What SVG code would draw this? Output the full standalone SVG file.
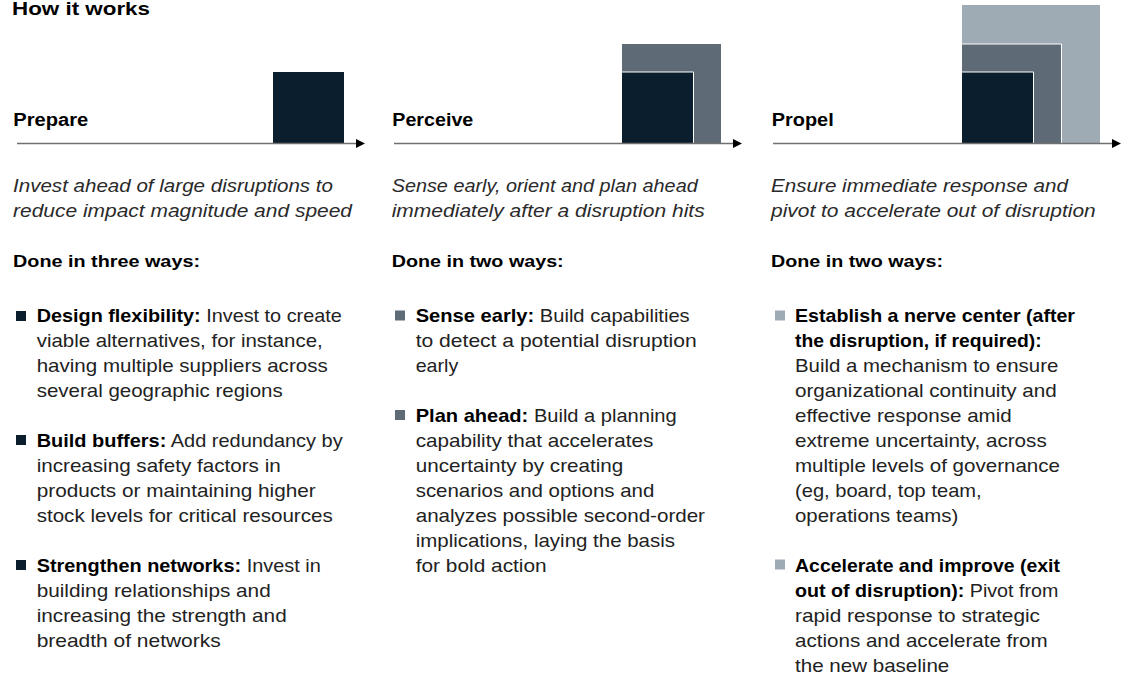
<svg xmlns="http://www.w3.org/2000/svg" width="1129" height="674" viewBox="0 0 1129 674">
<style>
  text { font-family: "Liberation Sans", Arial, sans-serif; fill: #222; }
  .title { font-size: 18px; font-weight: bold; fill: #000; }
  .head { font-size: 18px; font-weight: bold; fill: #000; }
  .ital { font-size: 18.5px; font-style: italic; fill: #2a2a2a; }
  .done { font-size: 17px; font-weight: bold; fill: #000; }
  .body { font-size: 18.5px; fill: #222; }
  .b { font-weight: bold; fill: #000; }
  .navy { fill: #0b1e2d; }
  .mid { fill: #5e6b76; }
  .light { fill: #9eaab4; }
  .sep { fill: none; stroke: #ffffff; stroke-width: 1; }
  .axis { stroke: #707070; stroke-width: 1.5; fill: none; marker-end: url(#arrow); }
</style>
<defs>
  <marker id="arrow" viewBox="0 0 9 9" refX="0" refY="4.5" markerWidth="9" markerHeight="9" markerUnits="userSpaceOnUse" orient="auto">
    <path d="M0,0 L9,4.5 L0,9 z" fill="#000"/>
  </marker>
</defs>
<rect width="1129" height="674" fill="#ffffff"/>
<text class="title" x="12" y="15" textLength="138" lengthAdjust="spacingAndGlyphs">How it works</text>

<g id="prepare">
  <rect class="navy" x="273" y="72" width="71" height="71.5"/>
  <text class="head" x="13.3" y="126" textLength="75" lengthAdjust="spacingAndGlyphs">Prepare</text>
  <text class="ital" x="13" y="191.7" textLength="320" lengthAdjust="spacingAndGlyphs">Invest ahead of large disruptions to</text>
  <text class="ital" x="13" y="216.7" textLength="339" lengthAdjust="spacingAndGlyphs">reduce impact magnitude and speed</text>
  <text class="done" x="13" y="266.7" textLength="187" lengthAdjust="spacingAndGlyphs">Done in three ways:</text>
  <rect class="navy" x="16" y="311" width="10" height="10"/>
  <text class="body" x="36.7" y="321.7" textLength="305" lengthAdjust="spacingAndGlyphs"><tspan class="b">Design flexibility:</tspan> Invest to create</text>
  <text class="body" x="36.7" y="346.7" textLength="286" lengthAdjust="spacingAndGlyphs">viable alternatives, for instance,</text>
  <text class="body" x="36.7" y="371.7" textLength="291" lengthAdjust="spacingAndGlyphs">having multiple suppliers across</text>
  <text class="body" x="36.7" y="396.7" textLength="246" lengthAdjust="spacingAndGlyphs">several geographic regions</text>
  <rect class="navy" x="16" y="435" width="10" height="10"/>
  <text class="body" x="36.7" y="446.7" textLength="306" lengthAdjust="spacingAndGlyphs"><tspan class="b">Build buffers:</tspan> Add redundancy by</text>
  <text class="body" x="36.7" y="471.7" textLength="244" lengthAdjust="spacingAndGlyphs">increasing safety factors in</text>
  <text class="body" x="36.7" y="496.7" textLength="279" lengthAdjust="spacingAndGlyphs">products or maintaining higher</text>
  <text class="body" x="36.7" y="521.7" textLength="296" lengthAdjust="spacingAndGlyphs">stock levels for critical resources</text>
  <rect class="navy" x="16" y="560" width="10" height="10"/>
  <text class="body" x="36.7" y="571.7" textLength="284" lengthAdjust="spacingAndGlyphs"><tspan class="b">Strengthen networks:</tspan> Invest in</text>
  <text class="body" x="36.7" y="596.7" textLength="234" lengthAdjust="spacingAndGlyphs">building relationships and</text>
  <text class="body" x="36.7" y="621.7" textLength="250" lengthAdjust="spacingAndGlyphs">increasing the strength and</text>
  <text class="body" x="36.7" y="646.7" textLength="184" lengthAdjust="spacingAndGlyphs">breadth of networks</text>
</g>

<g id="perceive">
  <rect class="mid" x="622" y="44" width="99" height="99.5"/>
  <rect class="navy" x="622" y="72" width="71.5" height="71.5"/>
  <polyline class="sep" points="622,72 693.5,72 693.5,143.5"/>
  <text class="head" x="392.3" y="126" textLength="81" lengthAdjust="spacingAndGlyphs">Perceive</text>
  <text class="ital" x="391.7" y="191.7" textLength="306" lengthAdjust="spacingAndGlyphs">Sense early, orient and plan ahead</text>
  <text class="ital" x="391.7" y="216.7" textLength="313" lengthAdjust="spacingAndGlyphs">immediately after a disruption hits</text>
  <text class="done" x="391.7" y="266.7" textLength="172" lengthAdjust="spacingAndGlyphs">Done in two ways:</text>
  <rect class="mid" x="395" y="310.5" width="10" height="10"/>
  <text class="body" x="415.7" y="321.7" textLength="274" lengthAdjust="spacingAndGlyphs"><tspan class="b">Sense early:</tspan> Build capabilities</text>
  <text class="body" x="415.7" y="346.7" textLength="281" lengthAdjust="spacingAndGlyphs">to detect a potential disruption</text>
  <text class="body" x="415.7" y="371.7" textLength="42.6" lengthAdjust="spacingAndGlyphs">early</text>
  <rect class="mid" x="395" y="410" width="10" height="10"/>
  <text class="body" x="415.7" y="421.7" textLength="261" lengthAdjust="spacingAndGlyphs"><tspan class="b">Plan ahead:</tspan> Build a planning</text>
  <text class="body" x="415.7" y="446.7" textLength="237.6" lengthAdjust="spacingAndGlyphs">capability that accelerates</text>
  <text class="body" x="415.7" y="471.7" textLength="207.6" lengthAdjust="spacingAndGlyphs">uncertainty by creating</text>
  <text class="body" x="415.7" y="496.7" textLength="238.6" lengthAdjust="spacingAndGlyphs">scenarios and options and</text>
  <text class="body" x="415.7" y="521.7" textLength="289.3" lengthAdjust="spacingAndGlyphs">analyzes possible second-order</text>
  <text class="body" x="415.7" y="546.7" textLength="259.3" lengthAdjust="spacingAndGlyphs">implications, laying the basis</text>
  <text class="body" x="415.7" y="571.7" textLength="131" lengthAdjust="spacingAndGlyphs">for bold action</text>
</g>

<g id="propel">
  <rect class="light" x="962" y="5" width="138" height="138.5"/>
  <rect class="mid" x="962" y="44" width="99" height="99.5"/>
  <polyline class="sep" points="962,44 1061.5,44 1061.5,143.5"/>
  <rect class="navy" x="962" y="72" width="71.5" height="71.5"/>
  <polyline class="sep" points="962,72 1033.5,72 1033.5,143.5"/>
  <text class="head" x="771.7" y="126" textLength="62" lengthAdjust="spacingAndGlyphs">Propel</text>
  <text class="ital" x="771" y="191.7" textLength="297" lengthAdjust="spacingAndGlyphs">Ensure immediate response and</text>
  <text class="ital" x="771" y="216.7" textLength="324.7" lengthAdjust="spacingAndGlyphs">pivot to accelerate out of disruption</text>
  <text class="done" x="771" y="266.7" textLength="172" lengthAdjust="spacingAndGlyphs">Done in two ways:</text>
  <rect class="light" x="775" y="310.5" width="10" height="10"/>
  <text class="body b" x="795" y="321.7" textLength="280" lengthAdjust="spacingAndGlyphs">Establish a nerve center (after</text>
  <text class="body b" x="795" y="346.7" textLength="246.7" lengthAdjust="spacingAndGlyphs">the disruption, if required):</text>
  <text class="body" x="795" y="371.7" textLength="263.3" lengthAdjust="spacingAndGlyphs">Build a mechanism to ensure</text>
  <text class="body" x="795" y="396.7" textLength="261.7" lengthAdjust="spacingAndGlyphs">organizational continuity and</text>
  <text class="body" x="795" y="421.7" textLength="216.7" lengthAdjust="spacingAndGlyphs">effective response amid</text>
  <text class="body" x="795" y="446.7" textLength="251.7" lengthAdjust="spacingAndGlyphs">extreme uncertainty, across</text>
  <text class="body" x="795" y="471.7" textLength="265" lengthAdjust="spacingAndGlyphs">multiple levels of governance</text>
  <text class="body" x="795" y="496.7" textLength="186.7" lengthAdjust="spacingAndGlyphs">(eg, board, top team,</text>
  <text class="body" x="795" y="521.7" textLength="163.3" lengthAdjust="spacingAndGlyphs">operations teams)</text>
  <rect class="light" x="775" y="559.5" width="10" height="10"/>
  <text class="body b" x="795" y="571.7" textLength="265" lengthAdjust="spacingAndGlyphs">Accelerate and improve (exit</text>
  <text class="body" x="795" y="596.7" textLength="263.3" lengthAdjust="spacingAndGlyphs"><tspan class="b">out of disruption):</tspan> Pivot from</text>
  <text class="body" x="795" y="621.7" textLength="245" lengthAdjust="spacingAndGlyphs">rapid response to strategic</text>
  <text class="body" x="795" y="646.7" textLength="252.7" lengthAdjust="spacingAndGlyphs">actions and accelerate from</text>
  <text class="body" x="795" y="671.7" textLength="154.3" lengthAdjust="spacingAndGlyphs">the new baseline</text>
</g>

<g id="connectors">
  <line class="axis" x1="17" y1="143.5" x2="356" y2="143.5"/>
  <line class="axis" x1="394" y1="143.5" x2="733" y2="143.5"/>
  <line class="axis" x1="773" y1="143.5" x2="1112" y2="143.5"/>
</g>
</svg>
